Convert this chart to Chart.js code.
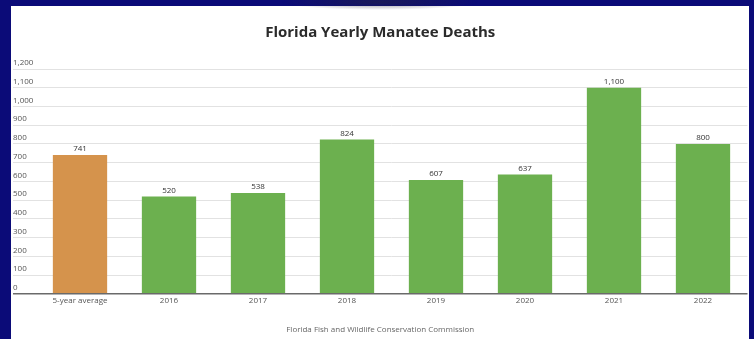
<!DOCTYPE html>
<html>
<head>
<meta charset="utf-8">
<script src="https://cdn.jsdelivr.net/npm/chart.js@4.4.0/dist/chart.umd.min.js"></script>
<style>
    html, body { margin: 0; padding: 0; }
    body { width: 754px; height: 339px; background: #0b0b78; position: relative; overflow: hidden; }
    #panel {
        position: absolute; left: 11px; top: 6px; width: 738px; height: 333px;
        background: #ffffff;
    }
    #shade {
        position: absolute; left: 280px; top: -6px; width: 200px; height: 16px;
        background: radial-gradient(ellipse at center, rgba(40,40,60,0.55) 0%, rgba(40,40,60,0) 70%);
    }
</style>
</head>
<body>
<div id="panel"><canvas id="myChart" width="738" height="333"></canvas></div>
<div id="shade"></div>
<script>
// data
const categories = ['5-year average', '2016', '2017', '2018', '2019', '2020', '2021', '2022'];
const deaths = [741, 520, 538, 824, 607, 637, 1100, 800];
const barColors = ['#d5934c', '#6cb04f', '#6cb04f', '#6cb04f', '#6cb04f', '#6cb04f', '#6cb04f', '#6cb04f'];
const yTicks = [0, 100, 200, 300, 400, 500, 600, 700, 800, 900, 1000, 1100, 1200];

const fmt = v => v.toLocaleString('en-US');

// value written above each bar
const valueLabels = {
    id: 'valueLabels',
    afterDatasetsDraw(chart) {
        const ctx = chart.ctx;
        const meta = chart.getDatasetMeta(0);
        ctx.save();
        ctx.font = '8px "Open Sans", sans-serif';
        ctx.fillStyle = '#333';
        ctx.textAlign = 'center';
        ctx.textBaseline = 'bottom';
        meta.data.forEach((bar, i) => {
            ctx.fillText(fmt(deaths[i]), bar.x, bar.y - 2);
        });
        ctx.restore();
    }
};

const data = {
    labels: categories,
    datasets: [{
        label: 'Manatee deaths',
        data: deaths,
        backgroundColor: barColors,
        borderWidth: 0,
        categoryPercentage: 1,
        barPercentage: 0.61
    }]
};

const config = {
    type: 'bar',
    data,
    options: {
        responsive: false,
        animation: false,
        layout: {
            padding: { left: 2, right: 1.5, top: 0, bottom: 0 }
        },
        plugins: {
            legend: { display: false },
            tooltip: { enabled: false },
            title: {
                display: true,
                text: 'Florida Yearly Manatee Deaths',
                color: '#2b2b2b',
                font: { family: '"Open Sans", sans-serif', size: 15, weight: 'bold' },
                padding: { top: 18, bottom: 27 }
            },
            subtitle: {
                display: true,
                position: 'bottom',
                text: 'Florida Fish and Wildlife Conservation Commission',
                color: '#666',
                font: { family: '"Open Sans", sans-serif', size: 8 },
                padding: { top: 18, bottom: 4 }
            }
        },
        scales: {
            x: {
                grid: { display: false, drawTicks: false },
                border: { display: false },
                ticks: {
                    color: '#555',
                    font: { family: '"Open Sans", sans-serif', size: 8 },
                    padding: 2,
                    maxRotation: 0,
                    autoSkip: false
                }
            },
            y: {
                min: 0,
                max: 1200,
                afterBuildTicks: scale => { scale.ticks = yTicks.map(v => ({ value: v })); },
                afterFit: scale => { scale.width = 22.5; },
                grid: {
                    color: ctx => ctx.tick && ctx.tick.value === 0 ? '#6a6a6a' : '#e2e2e2',
                    tickColor: ctx => ctx.tick && ctx.tick.value === 0 ? '#6a6a6a' : '#e2e2e2',
                    lineWidth: ctx => ctx.tick && ctx.tick.value === 0 ? 1.5 : 1,
                    tickLength: 22.5
                },
                border: { display: false },
                ticks: {
                    color: '#555',
                    font: { family: '"Open Sans", sans-serif', size: 8 },
                    crossAlign: 'far',
                    labelOffset: -6,
                    padding: 0,
                    callback: v => fmt(v)
                }
            }
        }
    },
    plugins: [valueLabels]
};

const myChart = new Chart(document.getElementById('myChart'), config);
</script>
</body>
</html>
